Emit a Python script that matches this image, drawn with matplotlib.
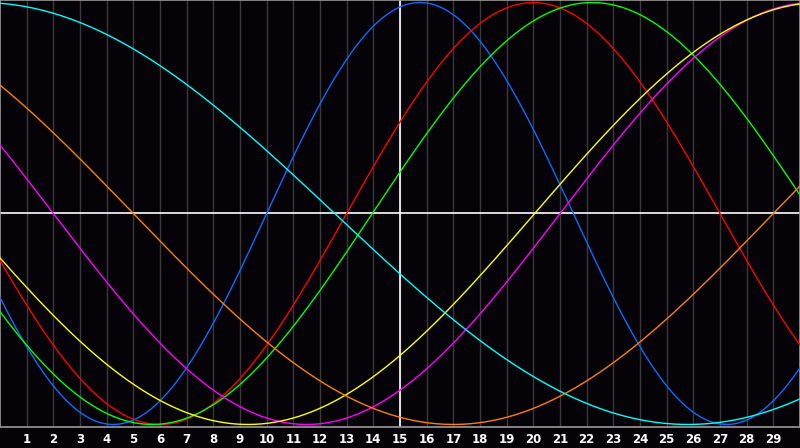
import numpy as np
import matplotlib
matplotlib.use("Agg")
import matplotlib.pyplot as plt

# biorhythm-style cycles: length in days, day of rising zero crossing
cycle_days = [23, 28, 33, 38, 43, 48, 53]
rise_day = [10.0, 13.0, 13.96, 21.0, 20.05, 29.0, 39.05]
colors = ["#0a6cff", "#ff0000", "#00ff00", "#ff00ff", "#ffff00", "#ff8000", "#00ffff"]
day_labels = [str(d) for d in range(1, 30)]

bg = "#050308"
fig = plt.figure(figsize=(8, 4.48), dpi=100, facecolor=bg)
ax = fig.add_axes([0, 21 / 448, 1, 427 / 448])
ax.set_facecolor(bg)

t = np.linspace(0, 30, 1200)

for d in range(1, 30):
    ax.axvline(d, color="#3a3a3a", lw=1.0, zorder=1)
ax.axvline(15, color="white", lw=1.2, zorder=2)
ax.axhline(0, color="white", lw=1.2, zorder=2)

for p, z, c in zip(cycle_days, rise_day, colors):
    ax.plot(t, np.sin(2 * np.pi * (t - z) / p), color=c, lw=1.0, zorder=3)

ax.set_xlim(0, 30)
ax.set_ylim(-1.012, 1.012)
ax.set_xticks(range(1, 30))
ax.set_xticklabels(day_labels, color="white", fontsize=8.5, fontweight="bold")
ax.tick_params(axis="x", length=0, pad=4)
ax.set_yticks([])
for s in ["left", "top", "bottom", "right"]:
    ax.spines[s].set_color("#9a9a9a")
    ax.spines[s].set_linewidth(1.2)

fig.savefig("out.png", dpi=100, facecolor=bg)
